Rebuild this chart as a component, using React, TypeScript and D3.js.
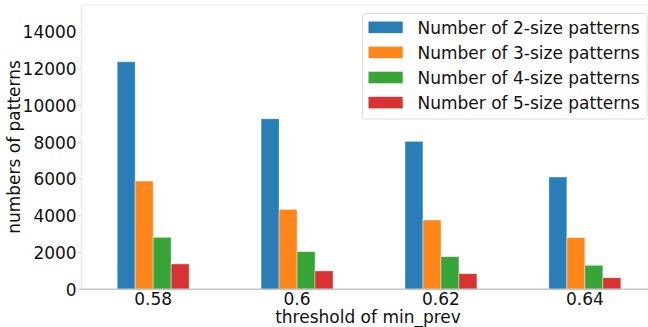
import React, { useEffect, useRef } from 'react';
import * as d3 from 'd3';

// thresholds on the x axis
const thresholds = ['0.58', '0.6', '0.62', '0.64'];

// legend names, one per series
const seriesNames = [
  'Number of 2-size patterns',
  'Number of 3-size patterns',
  'Number of 4-size patterns',
  'Number of 5-size patterns',
];

// values per series, in threshold order
const size2 = [12380, 9280, 8050, 6110];
const size3 = [5890, 4350, 3770, 2810];
const size4 = [2830, 2050, 1775, 1305];
const size5 = [1380, 1000, 850, 630];

const yTicks = [0, 2000, 4000, 6000, 8000, 10000, 12000, 14000];

const colors = ['#1f77b4', '#ff7f0e', '#2ca02c', '#d62728'];

const App = () => {
  const ref = useRef<SVGSVGElement>(null);

  useEffect(() => {
    const width = 648;
    const height = 327;
    const font = 'DejaVu Sans, sans-serif';
    const fs = 17;
    const ink = '#111111';

    const svg = d3.select(ref.current)
      .attr('width', width)
      .attr('height', height);

    svg.selectAll('*').remove();

    const series = [size2, size3, size4, size5];

    // plot area (right edge runs off the picture, like the original)
    const left = 81.2;
    const right = 656.8;
    const top = 5;
    const bottom = 289.3;

    const x = d3.scaleBand()
      .domain(thresholds)
      .range([left, right])
      .paddingInner(0.5)
      .paddingOuter(0.25);

    const xs = d3.scaleBand()
      .domain(seriesNames)
      .range([0, x.bandwidth()]);

    const y = d3.scaleLinear()
      .domain([0, 15470])
      .range([bottom, top]);

    // spines
    svg.append('line')
      .attr('x1', left).attr('x2', width)
      .attr('y1', top).attr('y2', top)
      .attr('stroke', '#ececec').attr('stroke-width', 1.2);
    svg.append('line')
      .attr('x1', left).attr('x2', left)
      .attr('y1', top).attr('y2', bottom)
      .attr('stroke', '#ececec').attr('stroke-width', 1.2);

    // y ticks
    const yAxis = svg.append('g');
    yAxis.selectAll('line')
      .data(yTicks)
      .join('line')
      .attr('x1', left - 3.5).attr('x2', left)
      .attr('y1', d => y(d)).attr('y2', d => y(d))
      .attr('stroke', '#d8d8d8');
    yAxis.selectAll('text')
      .data(yTicks)
      .join('text')
      .attr('x', left - 4.5)
      .attr('y', d => y(d))
      .attr('dy', '0.37em')
      .attr('text-anchor', 'end')
      .attr('font-family', font)
      .attr('font-size', fs)
      .attr('fill', ink)
      .text(d => d);

    // bars
    seriesNames.forEach((name, si) => {
      svg.append('g')
        .selectAll('rect')
        .data(series[si])
        .join('rect')
        .attr('x', (d, i) => x(thresholds[i])! + xs(name)!)
        .attr('y', d => y(d))
        .attr('width', xs.bandwidth())
        .attr('height', d => y(0) - y(d))
        .attr('fill', colors[si])
        .attr('fill-opacity', 0.95)
        .attr('stroke', '#ffffff')
        .attr('stroke-opacity', 0.5)
        .attr('stroke-width', 0.8);
    });

    // bottom spine
    svg.append('line')
      .attr('x1', left).attr('x2', width)
      .attr('y1', bottom).attr('y2', bottom)
      .attr('stroke', '#c4c4c4').attr('stroke-width', 1.5);

    // x tick labels
    svg.append('g')
      .selectAll('text')
      .data(thresholds)
      .join('text')
      .attr('x', d => x(d)! + x.bandwidth() / 2)
      .attr('y', 304.8)
      .attr('text-anchor', 'middle')
      .attr('font-family', font)
      .attr('font-size', fs)
      .attr('fill', ink)
      .text(d => d);

    // axis titles
    svg.append('text')
      .attr('x', (left + right) / 2 - 1)
      .attr('y', 322.8)
      .attr('text-anchor', 'middle')
      .attr('font-family', font)
      .attr('font-size', fs)
      .attr('fill', ink)
      .text('threshold of min_prev');

    svg.append('text')
      .attr('transform', 'rotate(-90)')
      .attr('x', -147)
      .attr('y', 19.5)
      .attr('text-anchor', 'middle')
      .attr('font-family', font)
      .attr('font-size', fs)
      .attr('fill', ink)
      .text('numbers of patterns');

    // legend
    const legend = svg.append('g');
    legend.append('rect')
      .attr('x', 362.5).attr('y', 13.5)
      .attr('width', 284.5).attr('height', 105.5)
      .attr('rx', 3)
      .attr('fill', '#ffffff').attr('fill-opacity', 0.8)
      .attr('stroke', '#dddddd');

    const rowY = d3.scaleLinear().domain([0, 3]).range([27.3, 102.6]);
    const item = legend.selectAll('g.item')
      .data(seriesNames)
      .join('g')
      .attr('class', 'item');
    item.append('rect')
      .attr('x', 368.5)
      .attr('y', (d, i) => rowY(i) - 5.8)
      .attr('width', 34.2)
      .attr('height', 11.6)
      .attr('fill', (d, i) => colors[i])
      .attr('fill-opacity', 0.95);
    item.append('text')
      .attr('x', 417.5)
      .attr('y', (d, i) => rowY(i))
      .attr('dy', '0.37em')
      .attr('font-family', font)
      .attr('font-size', fs)
      .attr('fill', ink)
      .text(d => d);
  }, []);

  return (
    <svg ref={ref} style={{ position: 'absolute', left: 0, top: 0, background: '#fff' }}></svg>
  );
};

export default App;
